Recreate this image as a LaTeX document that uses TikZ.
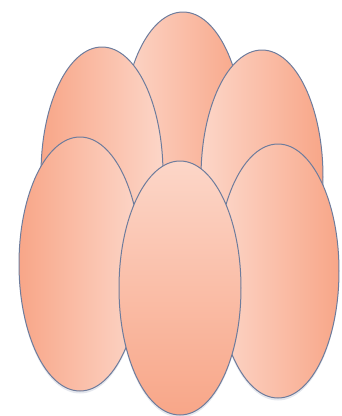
\documentclass[tikz,border=0pt]{standalone}
\usetikzlibrary{shapes.geometric,shadows}
\definecolor{eggdark}{RGB}{248,166,136}
\definecolor{egglight}{RGB}{252,214,200}
\definecolor{eggline}{RGB}{110,124,156}
\begin{document}
\begin{tikzpicture}[x=1pt,y=-1pt,
  egg/.style={ellipse,draw=eggline,line width=1pt,inner sep=0pt,
    minimum width=122pt,minimum height=254pt,
    drop shadow={shadow xshift=0pt,shadow yshift=-2.5pt,opacity=0.18,fill=eggline}},
  eggL/.style={egg,left color=eggdark,right color=egglight},
  eggR/.style={egg,left color=egglight,right color=eggdark},
  eggV/.style={egg,top color=egglight,bottom color=eggdark}]
\useasboundingbox (0,0) rectangle (341,416);
\node[eggR] (tc) at (183,139) {};
\node[eggL] (tl) at (102,174) {};
\node[eggR] (tr) at (262,177) {};
\node[eggL] (bl) at (80,264) {};
\node[eggR] (br) at (278,271) {};
\node[eggV] (bc) at (180,288) {};
\end{tikzpicture}
\end{document}
